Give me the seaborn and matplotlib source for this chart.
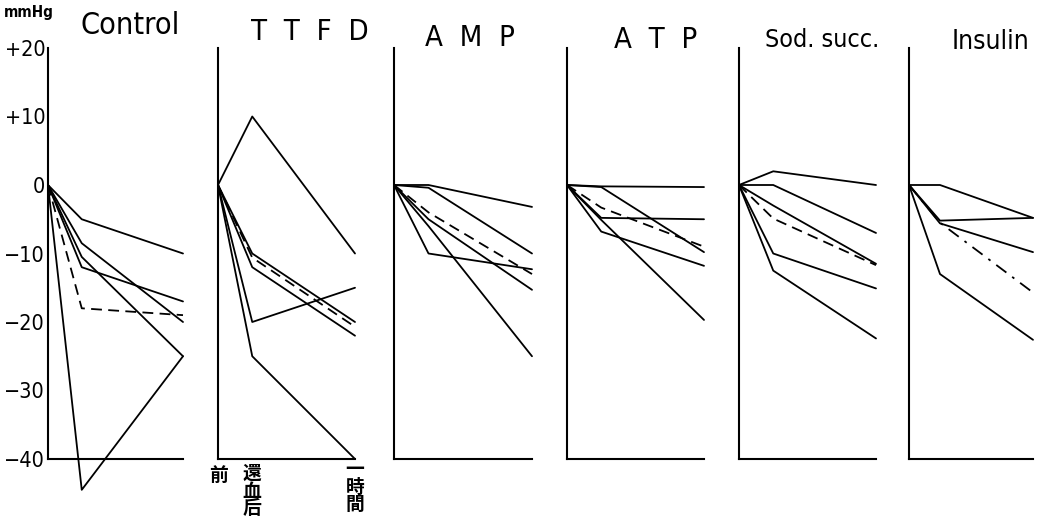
import matplotlib
matplotlib.use("Agg")
import matplotlib.pyplot as plt
import seaborn as sns
import pandas as pd

# ---------------- data ----------------
time_points = [0, 1, 4]
time_labels = ["前", "還\n血\n后", "一\n時\n間"]
y_ticks = [20, 10, 0, -10, -20, -30, -40]
y_tick_labels = ["+20", "+10", "0", "−10", "−20", "−30", "−40"]
panel_titles = ["Control", "T  T  F  D", "A  M  P", "A  T  P", "Sod. succ.", "Insulin"]

control = [[0, -5, -10], [0, -12, -17], [0, -8.5, -20], [0, -10.5, -25],
           [0, -18, -19], [0, -44.5, -25]]
ttfd = [[0, 10, -10], [0, -20, -15], [0, -25, -40], [0, -10, -20],
        [0, -10.6, -20.7], [0, -12, -22]]
amp = [[0, 0, -3.2], [0, -0.4, -10], [0, -10, -12.3], [0, -4, -13],
       [0, -5, -15.3], [0, -6, -25]]
atp = [[0, -0.2, -0.3], [0, -0.3, -9.8], [0, -4.8, -5], [0, -3.3, -9],
       [0, -6.8, -11.8], [0, -5.1, -19.7]]
sod_succ = [[0, 2, 0], [0, 0, -7], [0, -4.9, -11.7], [0, -3, -11.5],
            [0, -10, -15.1], [0, -12.5, -22.4]]
insulin = [[0, 0, -4.8], [0, -5.2, -4.8], [0, -5.6, -9.8], [0, -5.5, -15.7],
           [0, -13, -22.6]]

# index of the dashed (mean) line in each panel
dashed_index = [4, 4, 3, 3, 2, 3]

# ---------------- style / layout ----------------
sns.set_style("white")
plt.rcParams["font.family"] = ["DejaVu Sans", "Noto Sans CJK JP"]

W, H = 1046, 517
fig = plt.figure(figsize=(W / 100, H / 100), dpi=100)

def fx(x):
    return x / W

def fy(y):
    return 1 - y / H

y_top_px, y_bot_px = 48, 459
panel_px = [(48, 183), (218, 355), (394, 532), (567, 704), (739, 876), (909, 1033)]
title_px = [(130, 26), (310, 32), (470, 38), (656, 40), (822, 40), (990, 42)]
title_size = [22, 21, 21, 21, 18, 19]

panels = [control, ttfd, amp, atp, sod_succ, insulin]
dash_styles = [(0, (6, 3.5))] * 5 + [(0, (7, 4, 1.5, 4))]

for i, (series, (l, r)) in enumerate(zip(panels, panel_px)):
    ax = fig.add_axes([fx(l), fy(y_bot_px), fx(r - l), fy(y_top_px) - fy(y_bot_px)])
    for j, vals in enumerate(series):
        df = pd.DataFrame({"t": time_points, "v": vals})
        ls = dash_styles[i] if j == dashed_index[i] else "-"
        sns.lineplot(data=df, x="t", y="v", ax=ax, color="black", lw=1.3,
                     linestyle=ls, clip_on=False, sort=False)
    ax.set_xlim(0, 4)
    ax.set_ylim(-40, 20)
    ax.set_xlabel("")
    ax.set_ylabel("")
    for s in ["top", "right"]:
        ax.spines[s].set_visible(False)
    for s in ["left", "bottom"]:
        ax.spines[s].set_color("black")
        ax.spines[s].set_linewidth(1.5)
    ax.set_xticks(time_points[1:])
    ax.set_xticklabels([])
    ax.set_yticks(y_ticks[1:-1])
    ax.tick_params(axis="both", direction="in", length=4, width=1.2, colors="black")
    if i == 0:
        ax.set_yticks(y_ticks)
        ax.set_yticklabels(y_tick_labels, fontsize=15.5, fontstretch="condensed")
        ax.tick_params(axis="y", length=0, pad=2)
    else:
        ax.set_yticklabels([])
    ax.patch.set_alpha(0)
    tx, ty = title_px[i]
    fig.text(fx(tx), fy(ty), panel_titles[i], fontsize=title_size[i],
             fontstretch="condensed", ha="center", va="center", color="black")

# time labels under the TTFD panel
label_px = [(218, 466), (252, 464), (355, 460)]
for (lx, ly), lab in zip(label_px, time_labels):
    fig.text(fx(lx), fy(ly), lab, fontsize=13.5, fontweight="bold",
             family=["Noto Sans CJK JP"], linespacing=0.9,
             ha="center", va="top", color="black")

fig.text(fx(29), fy(13), "mmHg", fontsize=11, ha="center", va="center",
         fontweight="bold", fontstretch="condensed", color="black")

fig.savefig("out.png", dpi=100, facecolor="white")
